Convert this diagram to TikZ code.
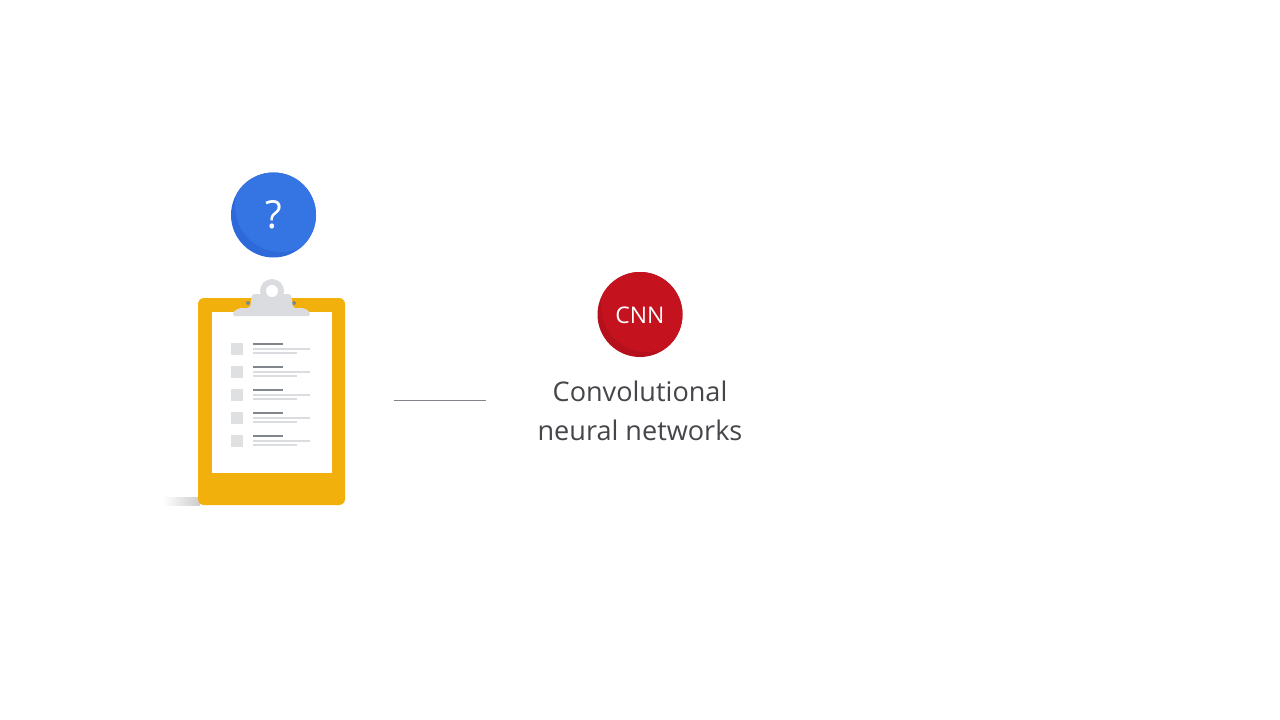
\documentclass[tikz,border=0pt]{standalone}
\usepackage{fontspec}
\setmainfont{Open Sans}
\definecolor{qblue}{HTML}{3574E3}
\definecolor{qbluedark}{HTML}{2E69D9}
\definecolor{cred}{HTML}{C5121F}
\definecolor{creddark}{HTML}{B5101C}
\definecolor{clipyellow}{HTML}{F2B00C}
\definecolor{clipgray}{HTML}{DADCE0}
\definecolor{boxgray}{HTML}{DFE0E2}
\definecolor{darkline}{HTML}{80868B}
\definecolor{lightline}{HTML}{DADCE0}
\definecolor{inktext}{HTML}{444649}
\tikzset{
  badge/.style={circle,minimum size=63.75pt,inner sep=0pt,text=white},
  checkbox/.style={fill=boxgray,draw=none},
  headline/.style={draw=darkline,line width=1.9pt},
  subline/.style={draw=lightline,line width=0.9pt},
  caption/.style={text=inktext,font=\fontsize{20.3}{29.3}\selectfont,align=center,inner sep=0pt}
}
\begin{document}
\begin{tikzpicture}[x=0.75pt,y=-0.75pt]
\useasboundingbox[fill=white] (0,0) rectangle (1280,720);
% shadow
\shade[left color=white,right color=black!20,shading angle=90,draw=none] (163,497) rectangle (200,505);
% board
\fill[clipyellow,rounded corners=4.5pt] (198,298) rectangle (345,505);
\fill[white] (212,312) rectangle (332,473);
% clip
\fill[darkline] (248,303) circle (2) (294,303) circle (2);
\fill[clipgray] (272,291) circle (12);
\fill[clipgray,rounded corners=1.5pt] (252,294) -- (250,308) -- (239,308) -- (233,312) -- (233,316) -- (310,316) -- (310,312) -- (304,308) -- (293,308) -- (291,294) -- cycle;
\fill[white] (272,291) circle (6);
% rows
\foreach \y in {0,23,46,69,92}{
  \fill[checkbox] (231,343+\y) rectangle (243,355+\y);
  \draw[headline] (253,344+\y) -- (283,344+\y);
  \draw[subline] (253,349+\y) -- (310,349+\y);
  \draw[subline] (253,353+\y) -- (297,353+\y);
}
% badges
\fill[qbluedark] (273.5,215) circle (42.5);
\begin{scope}
  \clip (273.5,215) circle (42.5);
  \fill[qblue] (281,206) circle (46);
\end{scope}
\node[badge,font=\fontsize{29}{29}\selectfont] (q) at (273.5,215) {?};
\fill[creddark] (640,314.5) circle (42.5);
\begin{scope}
  \clip (640,314.5) circle (42.5);
  \fill[cred] (647,306) circle (46);
\end{scope}
\node[badge,font=\fontsize{17.2}{17.2}\selectfont] (cnn) at (640,315.5) {CNN};
% connector
\coordinate (linea) at (393.5,400.5);
\coordinate (lineb) at (485.5,400.5);
\draw[draw=darkline,line width=0.8pt] (linea) -- (lineb);
\node[caption] (label) at (640,411) {Convolutional\\neural networks};
\end{tikzpicture}
\end{document}
